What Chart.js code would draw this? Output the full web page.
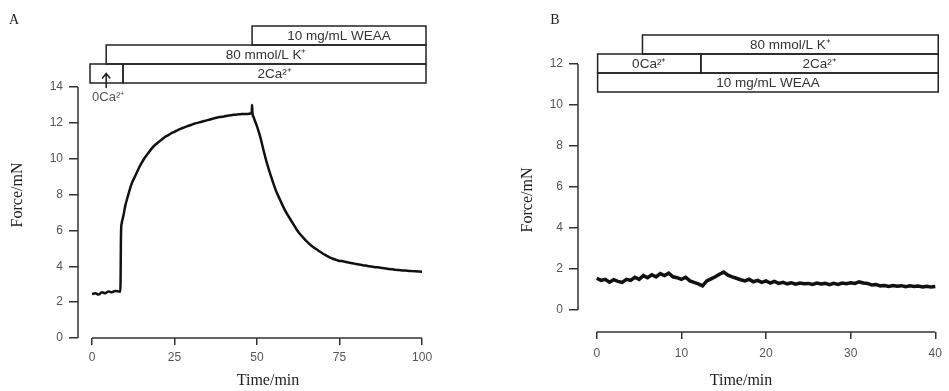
<!DOCTYPE html>
<html>
<head>
<meta charset="utf-8">
<script src="https://cdn.jsdelivr.net/npm/chart.js@4.4.1/dist/chart.umd.min.js"></script>
<style>
  html, body { margin: 0; padding: 0; background: #fff; }
  #wrap { position: relative; width: 949px; height: 391px; overflow: hidden; }
  #panelA { position: absolute; left: 0; top: 0; }
  #panelB { position: absolute; left: 470px; top: 0; }
</style>
</head>
<body>
<div id="wrap">
  <canvas id="panelA" width="470" height="391"></canvas>
  <canvas id="panelB" width="479" height="391"></canvas>
</div>
<script>
// ---- Panel A: K+ contraction, WEAA added at ~48 min ----
const timeA = [0, 1, 2, 3, 4, 5, 6, 7, 8, 8.6, 8.8, 9, 9.5, 10, 11, 12, 13, 14, 15, 16, 17, 18, 19, 20,
  21, 22, 23, 24, 25, 26, 27, 28, 29, 30, 31, 32, 33, 34, 35, 36, 37, 38, 39, 40, 41, 42, 43, 44, 45,
  46, 47, 48, 48.4, 48.5, 48.6, 49, 50, 51, 52, 53, 54, 55, 56, 57, 58, 59, 60, 61, 62, 63, 64, 65, 66,
  67, 68, 69, 70, 71, 72, 73, 74, 75, 76, 77, 78, 79, 80, 81, 82, 83, 84, 85, 86, 87, 88, 89, 90, 91,
  92, 93, 94, 95, 96, 97, 98, 99, 100];
const forceA = [2.45, 2.5, 2.42, 2.55, 2.5, 2.6, 2.55, 2.62, 2.6, 2.58, 5.9, 6.4, 6.8, 7.3, 8.0, 8.6, 9.0,
  9.4, 9.75, 10.05, 10.3, 10.55, 10.75, 10.9, 11.05, 11.2, 11.3, 11.42, 11.5, 11.6, 11.68, 11.75, 11.82,
  11.88, 11.95, 12.0, 12.05, 12.1, 12.15, 12.2, 12.25, 12.3, 12.33, 12.36, 12.4, 12.42, 12.45, 12.47,
  12.48, 12.5, 12.5, 12.52, 12.6, 13.0, 12.6, 12.3, 11.8, 11.2, 10.45, 9.75, 9.15, 8.6, 8.1, 7.7, 7.3,
  6.95, 6.65, 6.35, 6.05, 5.8, 5.6, 5.4, 5.22, 5.08, 4.95, 4.82, 4.7, 4.6, 4.5, 4.42, 4.36, 4.3, 4.28,
  4.24, 4.2, 4.17, 4.13, 4.1, 4.06, 4.04, 4.0, 3.98, 3.95, 3.93, 3.9, 3.88, 3.85, 3.83, 3.8, 3.79, 3.77,
  3.76, 3.74, 3.73, 3.72, 3.71, 3.7];
const xTicksA = [0, 25, 50, 75, 100];
const yTicksA = [0, 2, 4, 6, 8, 10, 12, 14];
const treatA = [
  { label: '2Ca²⁺', from: 9.4, to: 101.2, row: 0 },
  { label: '', from: -0.6, to: 9.4, row: 0 },
  { label: '80 mmol/L K⁺', from: 4.3, to: 101.2, row: 1 },
  { label: '10 mg/mL WEAA', from: 48.5, to: 101.2, row: 2 }
];
const arrowA = { time: 4.3, label: '0Ca²⁺' };

// ---- Panel B: WEAA pre-incubation, then K+ ----
const timeB = [0, 0.5, 1, 1.5, 2, 2.5, 3, 3.5, 4, 4.5, 5, 5.5, 6, 6.5, 7, 7.5, 8, 8.5, 9, 9.5, 10, 10.5,
  11, 11.5, 12, 12.5, 13, 13.5, 14, 14.5, 15, 15.5, 16, 16.5, 17, 17.5, 18, 18.5, 19, 19.5, 20, 20.5, 21,
  21.5, 22, 22.5, 23, 23.5, 24, 24.5, 25, 25.5, 26, 26.5, 27, 27.5, 28, 28.5, 29, 29.5, 30, 30.5, 31,
  31.5, 32, 32.5, 33, 33.5, 34, 34.5, 35, 35.5, 36, 36.5, 37, 37.5, 38, 38.5, 39, 39.5, 40];
const forceB = [1.55, 1.45, 1.5, 1.36, 1.48, 1.4, 1.35, 1.5, 1.45, 1.6, 1.5, 1.68, 1.58, 1.72, 1.62, 1.78,
  1.68, 1.8, 1.62, 1.58, 1.5, 1.6, 1.42, 1.35, 1.28, 1.18, 1.42, 1.52, 1.62, 1.75, 1.85, 1.7, 1.62, 1.55,
  1.48, 1.42, 1.5, 1.38, 1.45, 1.35, 1.42, 1.32, 1.4, 1.3, 1.35, 1.28, 1.33, 1.26, 1.32, 1.28, 1.3, 1.25,
  1.32, 1.27, 1.3, 1.24, 1.3, 1.25, 1.32, 1.28, 1.33, 1.3, 1.38, 1.32, 1.3, 1.22, 1.25, 1.18, 1.2, 1.15,
  1.2, 1.16, 1.19, 1.14, 1.18, 1.15, 1.17, 1.13, 1.16, 1.12, 1.15];
const xTicksB = [0, 10, 20, 30, 40];
const yTicksB = [0, 2, 4, 6, 8, 10, 12];
const treatB = [
  { label: '10 mg/mL WEAA', from: 0.1, to: 40.35, row: 0 },
  { label: '0Ca²⁺', from: 0.1, to: 12.3, row: 1 },
  { label: '2Ca²⁺', from: 12.3, to: 40.35, row: 1 },
  { label: '80 mmol/L K⁺', from: 5.4, to: 40.35, row: 2 }
];

const axisColor = '#333';
const tickFont = { family: "'Liberation Sans', Arial, sans-serif", size: 12 };
const serif = "'Liberation Serif', 'Times New Roman', serif";

// boxes for the solution protocol, drawn above the trace
const treatmentPlugin = {
  id: 'treatments',
  afterDraw(chart, args, opts) {
    const { ctx, chartArea } = chart;
    const x = chart.scales.x;
    const rowH = opts.rowHeight;
    ctx.save();
    ctx.lineWidth = 1.5;
    ctx.strokeStyle = '#222';
    ctx.fillStyle = '#333';
    ctx.font = "13.5px 'Liberation Sans', Arial, sans-serif";
    ctx.textAlign = 'center';
    ctx.textBaseline = 'middle';
    opts.boxes.forEach(b => {
      const x0 = x.getPixelForValue(b.from);
      const x1 = x.getPixelForValue(b.to);
      const yb = chartArea.top + opts.base - b.row * rowH;
      const yt = yb - rowH;
      ctx.strokeRect(x0, yt, x1 - x0, rowH);
      if (b.label) ctx.fillText(b.label, (x0 + x1) / 2, (yt + yb) / 2 + 1);
    });
    if (opts.arrow) {
      const ax = x.getPixelForValue(opts.arrow.time);
      const tip = chartArea.top + opts.base - rowH * 0.5;
      const tail = chartArea.top + 1;
      ctx.lineWidth = 1.5;
      ctx.beginPath();
      ctx.moveTo(ax, tail);
      ctx.lineTo(ax, tip);
      ctx.moveTo(ax - 4, tip + 5);
      ctx.lineTo(ax, tip);
      ctx.lineTo(ax + 4, tip + 5);
      ctx.stroke();
      ctx.fillStyle = '#555';
      ctx.font = "13px 'Liberation Sans', Arial, sans-serif";
      ctx.fillText(opts.arrow.label, ax + 2, chartArea.top + 10);
    }
    ctx.restore();
  }
};

// axis lines that stop at the first and last tick (offset axes)
const axisLinePlugin = {
  id: 'axisLines',
  afterDraw(chart) {
    const { ctx, chartArea } = chart;
    const x = chart.scales.x, y = chart.scales.y;
    const xt = x.ticks, yt = y.ticks;
    ctx.save();
    ctx.strokeStyle = axisColor;
    ctx.lineWidth = 1.5;
    ctx.beginPath();
    ctx.moveTo(x.getPixelForValue(xt[0].value), chartArea.bottom);
    ctx.lineTo(x.getPixelForValue(xt[xt.length - 1].value), chartArea.bottom);
    ctx.moveTo(chartArea.left, y.getPixelForValue(yt[0].value));
    ctx.lineTo(chartArea.left, y.getPixelForValue(yt[yt.length - 1].value));
    ctx.stroke();
    ctx.restore();
  }
};

// panel letter and axis titles
const panelTextPlugin = {
  id: 'panelText',
  afterDraw(chart, args, opts) {
    const ctx = chart.ctx;
    ctx.save();
    ctx.fillStyle = '#222';
    ctx.textAlign = 'center';
    ctx.textBaseline = 'middle';
    ctx.font = '14px ' + serif;
    ctx.fillText(opts.letter, opts.letterPos[0], opts.letterPos[1]);
    ctx.font = '16px ' + serif;
    ctx.fillText('Time/min', opts.xTitlePos[0], opts.xTitlePos[1]);
    ctx.translate(opts.yTitlePos[0], opts.yTitlePos[1]);
    ctx.rotate(-Math.PI / 2);
    ctx.fillText('Force/mN', 0, 0);
    ctx.restore();
  }
};

function makeChart(id, c) {
  return new Chart(document.getElementById(id), {
    type: 'line',
    data: {
      datasets: [{
        data: c.time.map((t, i) => ({ x: t, y: c.force[i] })),
        borderColor: '#111',
        borderWidth: c.lineWidth,
        pointRadius: 0,
        cubicInterpolationMode: c.monotone ? 'monotone' : 'default',
        tension: 0
      }]
    },
    options: {
      responsive: false,
      animation: false,
      layout: { padding: c.padding },
      plugins: {
        legend: { display: false },
        tooltip: { enabled: false },
        treatments: { boxes: c.boxes, base: c.boxBase, rowHeight: 19, arrow: c.arrow },
        panelText: c.text
      },
      scales: {
        x: {
          type: 'linear',
          min: c.xMin,
          max: c.xMax,
          afterBuildTicks: s => { s.ticks = c.xTicks.map(v => ({ value: v })); },
          afterFit: s => { s.height = c.xAxisHeight; },
          border: { display: false },
          grid: { drawOnChartArea: false, tickLength: 7, color: axisColor, lineWidth: 1.5 },
          ticks: { font: tickFont, color: '#555', padding: c.xPad, autoSkip: false, maxRotation: 0 }
        },
        y: {
          min: c.yMin,
          max: c.yMax,
          afterBuildTicks: s => { s.ticks = c.yTicks.map(v => ({ value: v })); },
          afterFit: s => { s.width = 40; },
          border: { display: false },
          grid: { drawOnChartArea: false, tickLength: 9, color: axisColor, lineWidth: 1.5 },
          ticks: { font: tickFont, color: '#555', padding: 6, autoSkip: false }
        }
      }
    },
    plugins: [axisLinePlugin, treatmentPlugin, panelTextPlugin]
  });
}

makeChart('panelA', {
  time: timeA, force: forceA, xTicks: xTicksA, yTicks: yTicksA,
  xMin: -4.24, xMax: 101.2, yMin: 0, yMax: 14,
  padding: { left: 38, right: 44, top: 87, bottom: 0 },
  xAxisHeight: 53, xPad: 5, lineWidth: 2.5, monotone: true,
  boxes: treatA, boxBase: -4, arrow: arrowA,
  text: { letter: 'A', letterPos: [14, 20], xTitlePos: [268, 381], yTitlePos: [18, 195] }
});

makeChart('panelB', {
  time: timeB, force: forceB, xTicks: xTicksB, yTicks: yTicksB,
  xMin: -2.22, xMax: 40.35, yMin: -1.07, yMax: 12,
  padding: { left: 68, right: 7, top: 64, bottom: 0 },
  xAxisHeight: 59, xPad: 7, lineWidth: 3.5, monotone: false,
  boxes: treatB, boxBase: 28, arrow: null,
  text: { letter: 'B', letterPos: [85, 20], xTitlePos: [271, 381], yTitlePos: [58, 200] }
});
</script>
</body>
</html>
